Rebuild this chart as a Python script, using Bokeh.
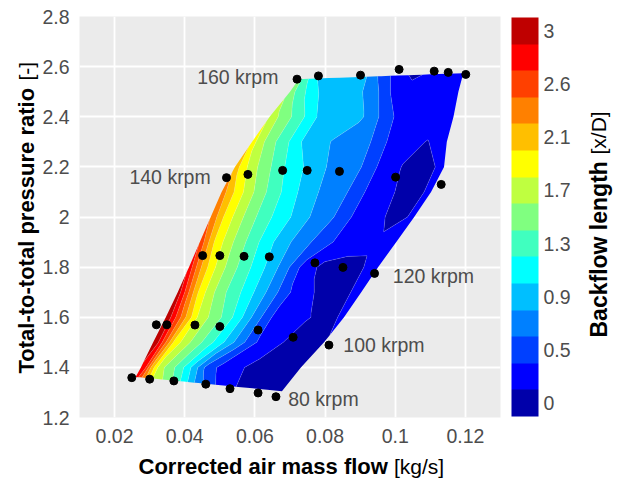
import numpy as np
from math import pi
from bokeh.plotting import figure
from bokeh.models import Range1d, FixedTicker, Label, ColorBar, LinearColorMapper
from bokeh.embed import file_html
from bokeh.resources import INLINE

# ---------------- data ----------------
# measured operating points (corrected mass flow [kg/s], pressure ratio [-])
mf_80 = [0.0249, 0.0300, 0.0369, 0.0460, 0.0529, 0.0609, 0.0660]
pr_80 = [1.359, 1.353, 1.346, 1.333, 1.315, 1.298, 1.283]
mf_100 = [0.0319, 0.0349, 0.0429, 0.0500, 0.0609, 0.0709, 0.0811]
pr_100 = [1.570, 1.570, 1.569, 1.563, 1.549, 1.520, 1.489]
mf_120 = [0.0451, 0.0500, 0.0569, 0.0641, 0.0771, 0.0851, 0.0941]
pr_120 = [1.846, 1.846, 1.843, 1.841, 1.817, 1.799, 1.775]
mf_140 = [0.0519, 0.0580, 0.0679, 0.0749, 0.0841, 0.1001, 0.1131]
pr_140 = [2.157, 2.170, 2.186, 2.186, 2.182, 2.159, 2.130]
mf_160 = [0.0720, 0.0781, 0.0901, 0.1011, 0.1111, 0.1151, 0.1201]
pr_160 = [2.550, 2.563, 2.566, 2.589, 2.582, 2.577, 2.569]

speed_names = ["80 krpm", "100 krpm", "120 krpm", "140 krpm", "160 krpm"]

# map boundary rows (left / right end of each row of the map)
edge_left_mf = [0.0260, 0.0275, 0.0310, 0.0346, 0.0380, 0.0412, 0.0443,
                0.0474, 0.0505, 0.0543, 0.0592, 0.0642, 0.0700, 0.0725]
edge_left_pr = [1.362, 1.40, 1.50, 1.60, 1.70, 1.80, 1.90,
                2.00, 2.10, 2.20, 2.30, 2.40, 2.50, 2.550]
edge_right_mf = [0.0677, 0.0731, 0.0797, 0.0854, 0.0903, 0.0951, 0.1003,
                 0.1054, 0.1102, 0.1139, 0.1147, 0.1166, 0.1180, 0.1194]
edge_right_pr = [1.305, 1.40, 1.50, 1.60, 1.70, 1.80, 1.90,
                 2.00, 2.10, 2.20, 2.30, 2.40, 2.50, 2.574]
# position across each row (0 = surge side, 1 = choke side)
row_frac = [0, 0.03, 0.07, 0.12, 0.18, 0.25, 0.33, 0.41, 0.5, 0.6, 0.7, 0.8, 0.9, 1.0]

# backflow length [x/D], rows bottom -> top
backflow = [
    [2.85, 2.58, 2.24, 1.79, 1.62, 1.40, 1.08, 0.71, 0.41, 0.22, 0.09, 0.02, 0.00, 0.02],
    [2.85, 2.69, 2.15, 1.69, 1.50, 1.26, 0.88, 0.47, 0.26, 0.15, 0.06, 0.02, 0.01, 0.03],
    [3.06, 2.90, 2.51, 2.01, 1.73, 1.50, 1.25, 0.98, 0.65, 0.33, 0.20, 0.05, 0.03, 0.09],
    [3.06, 2.88, 2.57, 2.19, 1.80, 1.57, 1.34, 1.05, 0.67, 0.30, 0.20, 0.12, 0.03, 0.15],
    [3.04, 2.76, 2.37, 1.97, 1.68, 1.43, 1.22, 0.98, 0.69, 0.35, 0.16, 0.04, 0.06, 0.17],
    [2.85, 2.54, 2.21, 1.91, 1.65, 1.41, 1.17, 0.94, 0.66, 0.26, 0.06, 0.03, 0.08, 0.19],
    [2.66, 2.38, 2.05, 1.81, 1.57, 1.34, 1.09, 0.87, 0.67, 0.47, 0.28, 0.21, 0.14, 0.19],
    [2.44, 2.25, 1.99, 1.77, 1.53, 1.31, 1.10, 0.93, 0.72, 0.55, 0.30, 0.17, 0.06, 0.13],
    [2.40, 2.19, 1.98, 1.75, 1.50, 1.28, 1.05, 0.85, 0.68, 0.54, 0.28, 0.14, 0.02, 0.15],
    [2.21, 1.96, 1.77, 1.56, 1.37, 1.14, 0.96, 0.79, 0.66, 0.55, 0.26, 0.10, 0.02, 0.17],
    [1.99, 1.74, 1.58, 1.40, 1.21, 0.97, 0.85, 0.74, 0.65, 0.56, 0.30, 0.16, 0.10, 0.19],
    [1.78, 1.66, 1.53, 1.39, 1.21, 0.97, 0.91, 0.85, 0.78, 0.52, 0.26, 0.21, 0.19, 0.21],
    [1.54, 1.39, 1.26, 1.08, 0.94, 0.90, 0.84, 0.79, 0.62, 0.31, 0.21, 0.17, 0.19, 0.21],
    [1.50, 1.31, 1.13, 0.95, 0.91, 0.87, 0.81, 0.76, 0.47, 0.21, 0.06, 0.15, 0.19, 0.21],
]

levels = [-0.1071, 0.1071, 0.3214, 0.5357, 0.75, 0.9643, 1.1786, 1.3929, 1.6071,
          1.8214, 2.0357, 2.25, 2.4643, 2.6786, 2.8929, 3.1071]
palette = ["#0000AA", "#0000FF", "#0040FF", "#0080FF", "#00BFFF", "#00FFFF",
           "#40FFBF", "#80FF80", "#BFFF40", "#FFFF00", "#FFBF00", "#FF8000",
           "#FF4000", "#FF0000", "#BF0000"]
cb_ticks = [0.0, 0.4286, 0.8571, 1.2857, 1.7143, 2.1429, 2.5714, 3.0]
cb_tick_labels = ["0", "0.5", "0.9", "1.3", "1.7", "2.1", "2.6", "3"]

x_ticks = [0.02, 0.04, 0.06, 0.08, 0.1, 0.12]
x_tick_labels = ["0.02", "0.04", "0.06", "0.08", "0.1", "0.12"]
y_ticks = [1.2, 1.4, 1.6, 1.8, 2.0, 2.2, 2.4, 2.6, 2.8]
y_tick_labels = ["1.2", "1.4", "1.6", "1.8", "2", "2.2", "2.4", "2.6", "2.8"]

# ---------------- figure ----------------
FONT = "Liberation Sans"
TICK_COL = "#4D4D4D"
TICK_SIZE = "19.5px"

p = figure(width=625, height=481, x_range=Range1d(0.01, 0.13), y_range=Range1d(1.2, 2.8),
           output_backend="svg", toolbar_location=None,
           min_border_left=79, min_border_right=125, min_border_top=16, min_border_bottom=64,
           background_fill_color="#EBEBEB", border_fill_color="white", outline_line_color=None)

for ax, ticks, labels in ((p.xaxis[0], x_ticks, x_tick_labels), (p.yaxis[0], y_ticks, y_tick_labels)):
    ax.ticker = FixedTicker(ticks=ticks)
    ax.major_label_overrides = dict(zip(ticks, labels))
    ax.axis_line_color = None
    ax.major_tick_line_color = None
    ax.minor_tick_line_color = None
    ax.major_tick_out = 0
    ax.major_tick_in = 0
    ax.minor_tick_out = 0
    ax.major_label_text_font = FONT
    ax.major_label_text_font_size = TICK_SIZE
    ax.major_label_text_color = TICK_COL
p.xaxis.major_label_standoff = 11
p.yaxis.major_label_standoff = 10

p.grid.grid_line_color = "white"
p.grid.grid_line_width = 1.8
p.xgrid.ticker = FixedTicker(ticks=x_ticks)
p.ygrid.ticker = FixedTicker(ticks=y_ticks)

# curvilinear grid spanning the measured map
xl = np.array(edge_left_mf); xr = np.array(edge_right_mf)
yl = np.array(edge_left_pr); yr = np.array(edge_right_pr)
f = np.array(row_frac)
X = xl[:, None] + f[None, :] * (xr - xl)[:, None]
Y = yl[:, None] + f[None, :] * (yr - yl)[:, None]
Z = np.array(backflow)

p.contour(x=X, y=Y, z=Z, levels=levels, fill_color=palette,
          line_color="white", line_alpha=0.25, line_width=0.6)

for mf, pr in ((mf_80, pr_80), (mf_100, pr_100), (mf_120, pr_120), (mf_140, pr_140), (mf_160, pr_160)):
    p.scatter(mf, pr, size=8, color="black")

# speed line labels (annotation placement)
label_pos = [(0.0695, 1.275, "left"), (0.0852, 1.491, "left"), (0.0993, 1.766, "left"),
             (0.0474, 2.159, "right"), (0.0667, 2.558, "right")]
for name, (lx, ly, al) in zip(speed_names, label_pos):
    p.add_layout(Label(x=lx, y=ly, text=name, text_font=FONT, text_font_size=TICK_SIZE,
                       text_color=TICK_COL, text_align=al, text_baseline="middle"))

# color bar
mapper = LinearColorMapper(palette=palette, low=levels[0], high=levels[-1])
cb = ColorBar(color_mapper=mapper, ticker=FixedTicker(ticks=cb_ticks),
              major_label_overrides=dict(zip(cb_ticks, cb_tick_labels)),
              width=27, height=399, location=(432, 1), padding=0, margin=0,
              bar_line_color=None, major_tick_line_color=None, minor_tick_line_color=None,
              label_standoff=5, major_label_text_font=FONT, major_label_text_font_size=TICK_SIZE,
              major_label_text_color=TICK_COL, background_fill_color=None, border_line_color=None)
p.add_layout(cb, "center")

# axis titles (bold name + plain unit), placed in canvas pixels
def title(side, cx, cy, text, bold, size, angle=0.0):
    p.add_layout(Label(x=cx, y=cy, x_units="canvas", y_units="canvas", text=text,
                       text_font=FONT, text_font_size=size, text_color="black",
                       text_font_style="bold" if bold else "normal",
                       text_align="left", text_baseline="middle", angle=angle), side)

title("below", 138, 466, "Corrected air mass flow", True, "22px")
title("left", 25.5, 373, "Total-to-total pressure ratio", True, "22px", pi / 2)
title("right", 393.5, 466, "[kg/s]", False, "21px")
title("right", 25.5, 80, "[-]", False, "21px", pi / 2)
title("right", 598, 337, "Backflow length", True, "23px", pi / 2)
title("right", 598, 154, "[x/D]", False, "21px", pi / 2)

open("out.html", "w").write(file_html(p, INLINE))
